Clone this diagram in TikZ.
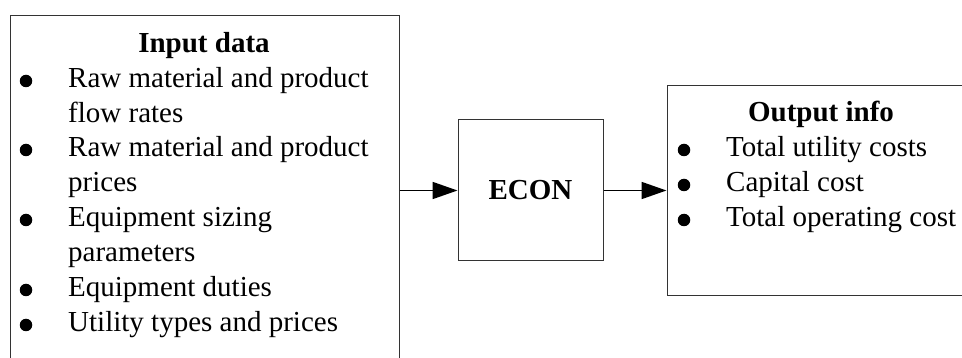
\documentclass[tikz,border=0pt]{standalone}
\usepackage{fontspec}
\setmainfont{Liberation Serif}
\usetikzlibrary{arrows.meta}
\begin{document}
\begin{tikzpicture}[x=1pt,y=-1pt,
  box/.style={draw=black!80,line width=1pt,inner sep=0pt,minimum width=#1},
  body/.style={font=\fontsize{29}{33}\selectfont,inner sep=0pt,anchor=base west},
  title/.style={font=\fontsize{29}{33}\selectfont\bfseries,inner sep=0pt,anchor=base},
  dot/.style={circle,fill=black,inner sep=0pt,minimum size=12.5pt},
  arr/.style={line width=1.8pt,-{Triangle[length=25pt,width=17pt]}}]
\useasboundingbox (0,0) rectangle (962,358);
\fill[white] (0,0) rectangle (962,358);

% the three blocks
\node[box=389pt,minimum height=360pt] (inp) at (204.5,196) {};
\node[box=145pt,minimum height=141pt,font=\fontsize{29}{33}\selectfont\bfseries] (econ) at (530.5,190.5) {ECON};
\node[box=330pt,minimum height=210pt] (out) at (832,191) {};

% input list
\node[title] (intitle) at (204,53) {Input data};
\foreach \y/\t [count=\i] in {88/Raw material and product,123/flow rates,157/Raw material and product,192/prices,227/Equipment sizing,262/parameters,297/Equipment duties,332/Utility types and prices}
  \node[body] (inl\i) at (68,\y) {\t};
\foreach \y [count=\i] in {88,157,227,297,332}
  \node[dot] (inb\i) at (26,\y-7) {};

% output list
\node[title] (outtitle) at (821,122) {Output info};
\foreach \y/\t [count=\i] in {157/Total utility costs,192/Capital cost,227/Total operating cost}
  {\node[body] (outl\i) at (726,\y) {\t};
   \node[dot] (outb\i) at (684,\y-7) {};}

% flow
\draw[arr] (econ.west -| inp.east) -- (econ.west);
\draw[arr] (econ.east) -- (econ.east -| out.west);
\end{tikzpicture}
\end{document}
